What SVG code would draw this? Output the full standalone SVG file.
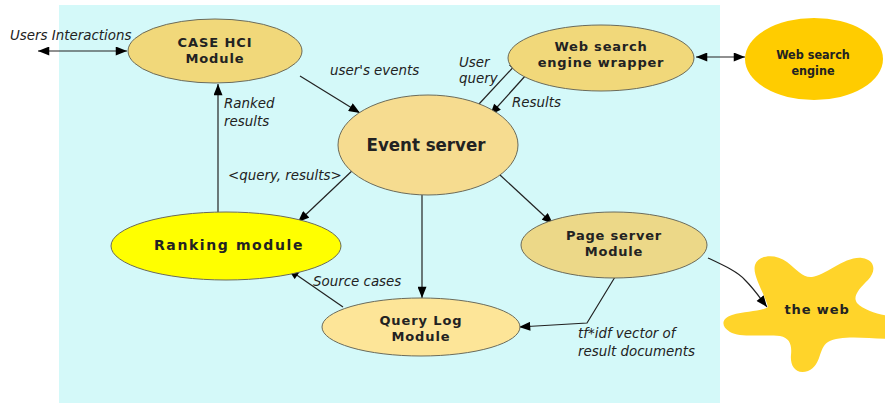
<svg xmlns="http://www.w3.org/2000/svg" width="885" height="403" viewBox="0 0 885 403">
  <style>
    .node { stroke: #6b6b5a; stroke-width: 1; }
    .lbl { font-family: "DejaVu Sans", sans-serif; font-weight: bold; fill: #222; text-anchor: middle; }
    .cond { font-family: "DejaVu Sans Condensed", "DejaVu Sans", sans-serif; font-stretch: condensed; }
    .edge { font-family: "DejaVu Sans", sans-serif; font-style: italic; font-size: 13.4px; fill: #222; }
    .conn { fill: none; stroke: #222; stroke-width: 1.2; }
  </style>
  <defs>
    <marker id="arrow" viewBox="0 0 10 8" refX="10" refY="4" markerWidth="12" markerHeight="9" markerUnits="userSpaceOnUse" orient="auto-start-reverse">
      <path d="M0,0 L10,4 L0,8 Z" fill="#000"/>
    </marker>
  </defs>

  <!-- system boundary -->
  <rect x="59" y="5" width="661" height="400" fill="#d4f9f9"/>

  <g id="connectors">
    <line class="conn" x1="38" y1="51" x2="127" y2="51" marker-start="url(#arrow)" marker-end="url(#arrow)"/>
    <line class="conn" x1="300" y1="76" x2="360" y2="113" marker-end="url(#arrow)"/>
    <line class="conn" x1="479" y1="104" x2="520" y2="60" marker-end="url(#arrow)"/>
    <line class="conn" x1="526" y1="75" x2="490" y2="115" marker-end="url(#arrow)"/>
    <line class="conn" x1="696" y1="57" x2="745" y2="57" marker-start="url(#arrow)" marker-end="url(#arrow)"/>
    <line class="conn" x1="218" y1="212" x2="218" y2="84" marker-end="url(#arrow)"/>
    <line class="conn" x1="354" y1="169" x2="298" y2="222" marker-end="url(#arrow)"/>
    <line class="conn" x1="422" y1="195" x2="422" y2="298" marker-end="url(#arrow)"/>
    <line class="conn" x1="500" y1="175" x2="553" y2="224" marker-end="url(#arrow)"/>
    <line class="conn" x1="343" y1="307" x2="288" y2="269" marker-end="url(#arrow)"/>
    <polyline class="conn" points="615,277 587,323 519,327" marker-end="url(#arrow)"/>
    <path class="conn" d="M708,258 C725,266 738,272 745,280 C755,290 760,298 767,307" stroke-width="2.2" marker-end="url(#arrow)"/>
  </g>

  <g id="case-hci">
    <ellipse class="node" cx="215" cy="51" rx="87" ry="32" fill="#f1d87a"/>
    <text class="lbl" x="215" y="47" font-size="13" letter-spacing="0.9">CASE HCI</text>
    <text class="lbl" x="215" y="63" font-size="13" letter-spacing="0.9">Module</text>
  </g>

  <g id="wrapper">
    <ellipse class="node" cx="601" cy="58" rx="93" ry="33" fill="#f1d87a"/>
    <text class="lbl" x="601" y="51" font-size="13" letter-spacing="0.8">Web search</text>
    <text class="lbl" x="601" y="67" font-size="13" letter-spacing="0.8">engine wrapper</text>
  </g>

  <g id="search-engine">
    <ellipse cx="814" cy="59" rx="69" ry="41" fill="#ffcc00"/>
    <text class="lbl cond" x="813" y="59" font-size="12.5">Web search</text>
    <text class="lbl cond" x="813" y="75" font-size="12.5">engine</text>
  </g>

  <g id="event-server">
    <ellipse class="node" cx="428" cy="145" rx="90" ry="50" fill="#f6dc90"/>
    <text class="lbl cond" x="426" y="151" font-size="18.5">Event server</text>
  </g>

  <g id="ranking">
    <ellipse class="node" cx="226" cy="246" rx="115" ry="34" fill="#ffff00"/>
    <text class="lbl" x="229" y="250" font-size="14" letter-spacing="1.6" fill="#000">Ranking module</text>
  </g>

  <g id="page-server">
    <ellipse class="node" cx="614" cy="245" rx="93" ry="33" fill="#ecd888"/>
    <text class="lbl" x="614" y="240" font-size="13" letter-spacing="0.8">Page server</text>
    <text class="lbl" x="614" y="256" font-size="13" letter-spacing="0.8">Module</text>
  </g>

  <g id="query-log">
    <ellipse class="node" cx="421" cy="327" rx="99" ry="29" fill="#fde598"/>
    <text class="lbl" x="421" y="325" font-size="13" letter-spacing="0.9">Query Log</text>
    <text class="lbl" x="421" y="341" font-size="13" letter-spacing="0.9">Module</text>
  </g>

  <g id="the-web">
    <path fill="#ffd42a" d="M768,307 C764,292 752,275 755,265 C758,255 775,253 787,262 C797,270 803,278 812,277 C825,276 845,256 862,258 C876,260 876,272 868,280 C860,288 852,296 857,303 C863,310 878,314 888,316 L888,339 C865,338 840,335 828,342 C818,348 822,365 808,371 C795,375 790,365 791,355 C792,345 790,338 780,336 C765,334 740,338 730,332 C720,326 722,318 732,315 C745,311 760,312 768,307 Z"/>
    <text class="lbl" x="817" y="314" font-size="13" letter-spacing="0.9" fill="#000">the web</text>
  </g>

  <g id="edge-labels">
    <text class="edge" x="10" y="40">Users Interactions</text>
    <text class="edge" x="330" y="75">user's events</text>
    <text class="edge" x="459" y="67">User</text>
    <text class="edge" x="459" y="83">query</text>
    <text class="edge" x="512" y="107">Results</text>
    <text class="edge" x="224" y="108">Ranked</text>
    <text class="edge" x="224" y="126">results</text>
    <text class="edge" x="228" y="180">&lt;query, results&gt;</text>
    <text class="edge" x="313" y="286">Source cases</text>
    <text class="edge" x="578" y="338">tf*idf vector of</text>
    <text class="edge" x="578" y="356">result documents</text>
  </g>
</svg>
